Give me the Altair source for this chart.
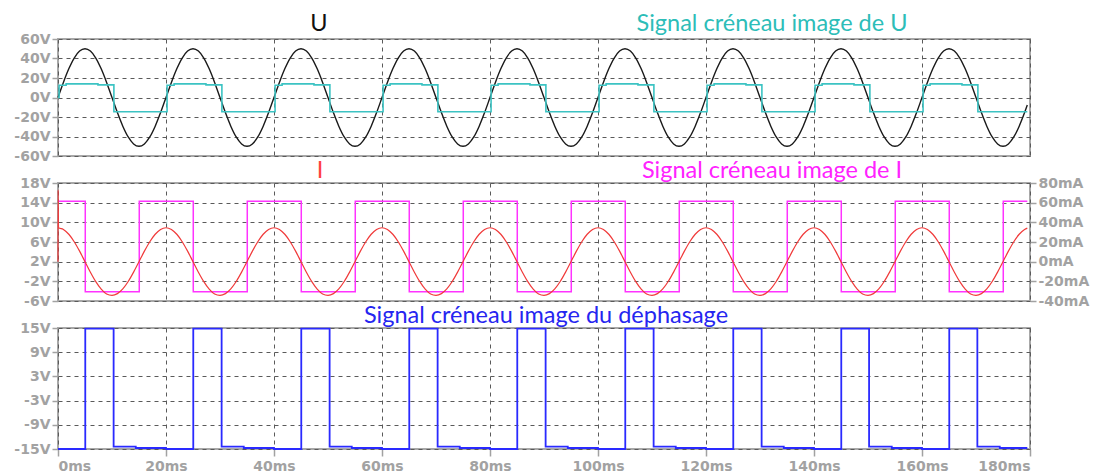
import altair as alt
import pandas as pd

# ---------------- data ----------------
t_ms = list(range(0, 180)) + [179.5]

u_volts = [
    0, 15.5, 29.4, 40.5, 47.6, 50.0, 47.6, 40.5, 29.4, 15.5, 0, -15.5, -29.4, -40.5, -47.6, -50.0, -47.6, -40.5, -29.4, -15.5,
    0, 15.5, 29.4, 40.5, 47.6, 50.0, 47.6, 40.5, 29.4, 15.5, 0, -15.5, -29.4, -40.5, -47.6, -50.0, -47.6, -40.5, -29.4, -15.5,
    0, 15.5, 29.4, 40.5, 47.6, 50.0, 47.6, 40.5, 29.4, 15.5, 0, -15.5, -29.4, -40.5, -47.6, -50.0, -47.6, -40.5, -29.4, -15.5,
    0, 15.5, 29.4, 40.5, 47.6, 50.0, 47.6, 40.5, 29.4, 15.5, 0, -15.5, -29.4, -40.5, -47.6, -50.0, -47.6, -40.5, -29.4, -15.5,
    0, 15.5, 29.4, 40.5, 47.6, 50.0, 47.6, 40.5, 29.4, 15.5, 0, -15.5, -29.4, -40.5, -47.6, -50.0, -47.6, -40.5, -29.4, -15.5,
    0, 15.5, 29.4, 40.5, 47.6, 50.0, 47.6, 40.5, 29.4, 15.5, 0, -15.5, -29.4, -40.5, -47.6, -50.0, -47.6, -40.5, -29.4, -15.5,
    0, 15.5, 29.4, 40.5, 47.6, 50.0, 47.6, 40.5, 29.4, 15.5, 0, -15.5, -29.4, -40.5, -47.6, -50.0, -47.6, -40.5, -29.4, -15.5,
    0, 15.5, 29.4, 40.5, 47.6, 50.0, 47.6, 40.5, 29.4, 15.5, 0, -15.5, -29.4, -40.5, -47.6, -50.0, -47.6, -40.5, -29.4, -15.5,
    0, 15.5, 29.4, 40.5, 47.6, 50.0, 47.6, 40.5, 29.4, 15.5, 0, -15.5, -29.4, -40.5, -47.6, -50.0, -47.6, -40.5, -29.4, -15.5,
    -7.8,
]

i_t = [0, 0.02, 0.1] + list(range(1, 180)) + [179.5]
i_mA = [
    0, 73, 34.5, 32.8, 27.9, 20.3, 10.7, 0, -10.7, -20.3, -27.9, -32.8, -34.2, -32.5, -27.7, -20.2, -10.6, 0, 10.7, 20.3, 27.9, 32.8,
    34.5, 32.8, 27.9, 20.3, 10.7, 0, -10.7, -20.3, -27.9, -32.8, -34.2, -32.5, -27.7, -20.2, -10.6, 0, 10.7, 20.3, 27.9, 32.8,
    34.5, 32.8, 27.9, 20.3, 10.7, 0, -10.7, -20.3, -27.9, -32.8, -34.2, -32.5, -27.7, -20.2, -10.6, 0, 10.7, 20.3, 27.9, 32.8,
    34.5, 32.8, 27.9, 20.3, 10.7, 0, -10.7, -20.3, -27.9, -32.8, -34.2, -32.5, -27.7, -20.2, -10.6, 0, 10.7, 20.3, 27.9, 32.8,
    34.5, 32.8, 27.9, 20.3, 10.7, 0, -10.7, -20.3, -27.9, -32.8, -34.2, -32.5, -27.7, -20.2, -10.6, 0, 10.7, 20.3, 27.9, 32.8,
    34.5, 32.8, 27.9, 20.3, 10.7, 0, -10.7, -20.3, -27.9, -32.8, -34.2, -32.5, -27.7, -20.2, -10.6, 0, 10.7, 20.3, 27.9, 32.8,
    34.5, 32.8, 27.9, 20.3, 10.7, 0, -10.7, -20.3, -27.9, -32.8, -34.2, -32.5, -27.7, -20.2, -10.6, 0, 10.7, 20.3, 27.9, 32.8,
    34.5, 32.8, 27.9, 20.3, 10.7, 0, -10.7, -20.3, -27.9, -32.8, -34.2, -32.5, -27.7, -20.2, -10.6, 0, 10.7, 20.3, 27.9, 32.8,
    34.5, 32.8, 27.9, 20.3, 10.7, 0, -10.7, -20.3, -27.9, -32.8, -34.2, -32.5, -27.7, -20.2, -10.6, 0, 10.7, 20.3, 27.9, 32.8,
    34.1,
]

# square signal image of U (change points, step-after)
cyan_t = [0, 0.2, 1.5, 7.4, 10.35,
          20.2, 21.5, 27.4, 30.35,
          40.2, 41.5, 47.4, 50.35,
          60.2, 61.5, 67.4, 70.35,
          80.2, 81.5, 87.4, 90.35,
          100.2, 101.5, 107.4, 110.35,
          120.2, 121.5, 127.4, 130.35,
          140.2, 141.5, 147.4, 150.35,
          160.2, 161.5, 167.4, 170.35,
          179.5]
cyan_v = [0, 12.5, 14.0, 13.0, -14.6,
          12.5, 14.0, 13.0, -14.6,
          12.5, 14.0, 13.0, -14.6,
          12.5, 14.0, 13.0, -14.6,
          12.5, 14.0, 13.0, -14.6,
          12.5, 14.0, 13.0, -14.6,
          12.5, 14.0, 13.0, -14.6,
          12.5, 14.0, 13.0, -14.6,
          12.5, 14.0, 13.0, -14.6,
          -14.6]

# square signal image of I (change points, step-after)
mag_t = [0, 5.05, 15.05, 25.05, 35.05, 45.05, 55.05, 65.05, 75.05, 85.05, 95.05,
         105.05, 115.05, 125.05, 135.05, 145.05, 155.05, 165.05, 175.05, 179.5]
mag_v = [14.3, -4.1, 14.3, -4.1, 14.3, -4.1, 14.3, -4.1, 14.3, -4.1, 14.3,
         -4.1, 14.3, -4.1, 14.3, -4.1, 14.3, -4.1, 14.3, 14.3]

# square signal image of the phase shift (change points, step-after)
blue_t = [0, 5.05, 10.3, 14.4, 20.0,
          25.05, 30.3, 34.4, 40.0,
          45.05, 50.3, 54.4, 60.0,
          65.05, 70.3, 74.4, 80.0,
          85.05, 90.3, 94.4, 100.0,
          105.05, 110.3, 114.4, 120.0,
          125.05, 130.3, 134.4, 140.0,
          145.05, 150.2, 154.4, 160.0,
          165.05, 170.25, 174.4, 179.5]
blue_v = [-15.0, 14.85, -14.4, -14.75, -15.0,
          14.85, -14.4, -14.75, -15.0,
          14.85, -14.4, -14.75, -15.0,
          14.85, -14.4, -14.75, -15.0,
          14.85, -14.4, -14.75, -15.0,
          14.85, -14.4, -14.75, -15.0,
          14.85, -14.4, -14.75, -15.0,
          14.85, -14.4, -14.75, -15.0,
          14.85, -14.4, -14.75, -14.75]

x_ticks = [0, 20, 40, 60, 80, 100, 120, 140, 160, 180]
u_ticks = [-60, -40, -20, 0, 20, 40, 60]
v2_ticks = [-6, -2, 2, 6, 10, 14, 18]
mA_ticks = [-40, -20, 0, 20, 40, 60, 80]
v3_ticks = [-15, -9, -3, 3, 9, 15]

# ---------------- styling ----------------
W = 972
H1, H2, H3 = 117, 118, 121
LABEL = "#A2A2A2"
TITLE_FONT = "Lato"
TITLE_SIZE = 23.5

x_scale = alt.Scale(domain=[0, 180], nice=False, zero=False)
x_axis_hidden = alt.Axis(values=x_ticks, labels=False, ticks=False, domain=False, grid=True, title=None)
x_axis_bottom = alt.Axis(values=x_ticks, labelExpr="datum.value + 'ms'", grid=True, title=None,
                         ticks=True, tickSize=7, domain=False, labelPadding=3)


def yaxis(vals, unit, orient="left", grid=True):
    return alt.Axis(values=vals, labelExpr="datum.value + '" + unit + "'", title=None,
                    orient=orient, grid=grid, domain=False, ticks=True, tickSize=6, labelPadding=2)


def title_text(txt, color, x, y, size=TITLE_SIZE):
    return alt.Chart(pd.DataFrame({"a": [0]})).mark_text(
        text=txt, color=color, font=TITLE_FONT, fontSize=size, align="center", baseline="middle"
    ).encode(x=alt.value(x), y=alt.value(y))


# panel 1
df_u = pd.DataFrame({"t": t_ms, "v": u_volts})
df_c = pd.DataFrame({"t": cyan_t, "v": cyan_v})
u_line = alt.Chart(df_u).mark_line(color="#1A1A1A", strokeWidth=1.4, interpolate="monotone").encode(
    x=alt.X("t:Q", scale=x_scale, axis=x_axis_hidden),
    y=alt.Y("v:Q", scale=alt.Scale(domain=[-60, 60], nice=False), axis=yaxis(u_ticks, "V")),
)
c_line = alt.Chart(df_c).mark_line(color="#3CC3C3", strokeWidth=1.6, interpolate="step-after").encode(
    x=alt.X("t:Q", scale=x_scale, axis=x_axis_hidden),
    y=alt.Y("v:Q", scale=alt.Scale(domain=[-60, 60], nice=False), axis=yaxis(u_ticks, "V")),
)
p1 = alt.layer(
    u_line, c_line,
    title_text("U", "#111111", 261, -15),
    title_text("Signal créneau image de U", "#2DBDB8", 714, -15),
).properties(width=W, height=H1)

# panel 2
df_i = pd.DataFrame({"t": i_t, "v": i_mA})
df_m = pd.DataFrame({"t": mag_t, "v": mag_v})
m_line = alt.Chart(df_m).mark_line(color="#FF33FF", strokeWidth=1.5, interpolate="step-after").encode(
    x=alt.X("t:Q", scale=x_scale, axis=x_axis_hidden),
    y=alt.Y("v:Q", scale=alt.Scale(domain=[-6, 18], nice=False), axis=yaxis(v2_ticks, "V")),
)
i_line = alt.Chart(df_i).mark_line(color="#F03A3A", strokeWidth=1.2, interpolate="monotone").encode(
    x=alt.X("t:Q", scale=x_scale, axis=x_axis_hidden),
    y=alt.Y("v:Q", scale=alt.Scale(domain=[-40, 80], nice=False), axis=yaxis(mA_ticks, "mA", "right", False)),
)
p2 = alt.layer(
    m_line, i_line,
    title_text("I", "#FF4040", 262, -12),
    title_text("Signal créneau image de I", "#FF22FF", 714, -12),
).resolve_scale(y="independent").properties(width=W, height=H2)

# panel 3
df_b = pd.DataFrame({"t": blue_t, "v": blue_v})
b_line = alt.Chart(df_b).mark_line(color="#2A2AFF", strokeWidth=1.8, interpolate="step-after").encode(
    x=alt.X("t:Q", scale=x_scale, axis=x_axis_bottom),
    y=alt.Y("v:Q", scale=alt.Scale(domain=[-15, 15], nice=False), axis=yaxis(v3_ticks, "V")),
)
p3 = alt.layer(
    b_line,
    title_text("Signal créneau image du déphasage", "#2525F0", 488, -12),
).properties(width=W, height=H3)

chart = alt.vconcat(p1, p2, p3, spacing=27, bounds="flush").properties(
    padding={"left": 4, "top": 3, "right": 0, "bottom": 0}
).configure_view(
    stroke="#A8A8A8", strokeWidth=2
).configure_axis(
    labelFont="DejaVu Sans", labelFontWeight="bold", labelFontSize=14, labelColor=LABEL,
    tickColor=LABEL, tickWidth=1.5,
    gridColor="#5A5A5A", gridDash=[4, 4], gridWidth=1, gridOpacity=1,
).configure_concat(spacing=27)

chart.save("out.html", embed_options={"renderer": "svg", "actions": False})
